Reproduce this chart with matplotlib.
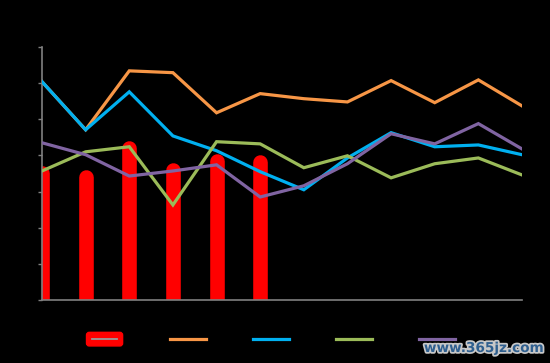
import matplotlib
matplotlib.use("Agg")
import matplotlib.pyplot as plt
import matplotlib.patheffects as pe
from matplotlib.transforms import ScaledTranslation
from matplotlib.patches import Patch, FancyBboxPatch
from matplotlib.lines import Line2D
from matplotlib.legend_handler import HandlerBase
import numpy as np

plt.rcParams['font.family'] = ['Noto Sans CJK SC', 'DejaVu Sans']

categories = ['1月', '2月', '3月', '4月', '5月', '6月', '7月', '8月', '9月', '10月', '11月', '12月']
bar_values = [37.1, 36.0, 44.0, 38.0, 40.4, 40.2]
orange_values = [60.4, 47.1, 63.4, 62.9, 51.8, 57.1, 55.7, 54.8, 60.7, 54.6, 60.9, 53.7]
blue_values = [60.4, 47.1, 57.6, 45.4, 41.3, 35.5, 30.5, 39.3, 46.3, 42.4, 42.9, 40.2]
green_values = [35.7, 41.0, 42.4, 26.3, 43.8, 43.2, 36.6, 39.9, 33.8, 37.7, 39.3, 34.6]
purple_values = [43.5, 40.2, 34.3, 35.7, 37.4, 28.5, 31.6, 37.7, 46.0, 43.2, 48.8, 41.8]
series_names = ['系列1', '系列2', '系列3', '系列4', '系列5']
y_ticks = [0, 10, 20, 30, 40, 50, 60, 70]

fig = plt.figure(figsize=(5.5, 3.63), dpi=100, facecolor='black')
ax = fig.add_axes([42/550, 1-300/363, 480/550, 253/363])
ax.set_facecolor('black')

x = np.arange(len(categories))
bar_lw = 10.5  # points
r = bar_lw / 2 / 72
shift = ax.transData + ScaledTranslation(0, -r, fig.dpi_scale_trans)
for xi, v in zip(x[:len(bar_values)], bar_values):
    ax.plot([xi, xi], [0, v], color='#FF0000', lw=bar_lw, solid_capstyle='round',
            transform=shift, zorder=2)

colors = ['#F79646', '#00B0F0', '#9BBB59', '#8064A2']
for vals, c in zip([orange_values, blue_values, green_values, purple_values], colors):
    ax.plot(x, vals, color=c, lw=2.3, zorder=3, solid_joinstyle='miter')

ax.set_xlim(0, len(categories) - 1)
ax.set_ylim(0, 70)
ax.set_yticks(y_ticks)
ax.set_yticklabels([])
ax.set_xticks([])
for s in ['top', 'right']:
    ax.spines[s].set_visible(False)
for s in ['left', 'bottom']:
    ax.spines[s].set_color('#808080')
    ax.spines[s].set_linewidth(1.2)
ax.tick_params(axis='y', direction='out', length=3, color='#808080', width=1)


class RoundBarHandler(HandlerBase):
    def create_artists(self, legend, orig_handle, xdescent, ydescent, width, height,
                       fontsize, trans):
        h = height * 1.4
        y0 = -ydescent + (height - h) / 2
        box = FancyBboxPatch((-xdescent + 2, y0 + 2), width - 4, h - 4,
                             boxstyle='round,pad=2', facecolor='#FF0000',
                             edgecolor='#FF0000', transform=trans)
        ln = Line2D([-xdescent + 4, -xdescent + width - 4],
                    [y0 + h / 2, y0 + h / 2], color='#9A9A9A', lw=1.3, transform=trans)
        return [box, ln]


handles = [Patch(facecolor='#FF0000')]
handles += [Line2D([], [], color=c, lw=2.3) for c in colors]
leg = fig.legend(handles, series_names, ncol=5, loc='center left',
                 bbox_to_anchor=(74/550, 1-340/363), frameon=False,
                 handler_map={Patch: RoundBarHandler()},
                 fontsize=10, handlelength=2.6, handletextpad=0.5, columnspacing=0.33,
                 labelcolor='black')

fig.text(484/550, 1-348/363, 'www.365jz.com', ha='center', va='center',
         fontsize=9.8, fontweight='bold', color='#2F5F8F', family='DejaVu Sans',
         path_effects=[pe.withStroke(linewidth=2.5, foreground='#C8C8C8')], zorder=10)

fig.savefig('out.png', dpi=100, facecolor='black')
